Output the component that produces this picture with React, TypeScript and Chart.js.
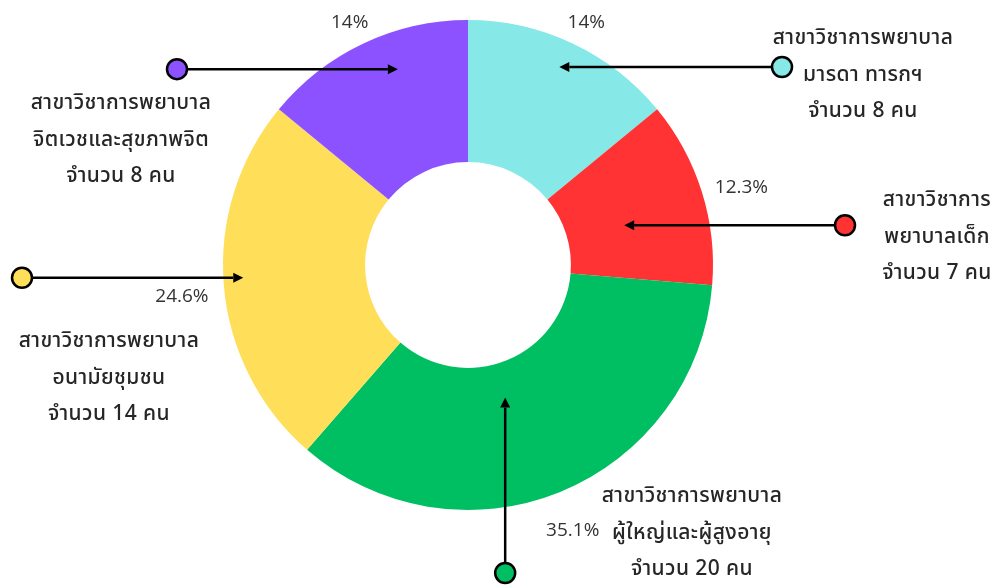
import React, { useEffect, useRef } from "react";
import { Chart, registerables } from "chart.js";

Chart.register(...registerables);

// ---- data ----
const categories = [
  "สาขาวิชาการพยาบาลมารดา ทารกฯ",
  "สาขาวิชาการพยาบาลเด็ก",
  "สาขาวิชาการพยาบาลผู้ใหญ่และผู้สูงอายุ",
  "สาขาวิชาการพยาบาลอนามัยชุมชน",
  "สาขาวิชาการพยาบาลจิตเวชและสุขภาพจิต",
];
const counts = [8, 7, 20, 14, 8];
const percentLabels = ["14%", "12.3%", "35.1%", "24.6%", "14%"];
const nameLines = [
  ["สาขาวิชาการพยาบาล", "มารดา ทารกฯ"],
  ["สาขาวิชาการ", "พยาบาลเด็ก"],
  ["สาขาวิชาการพยาบาล", "ผู้ใหญ่และผู้สูงอายุ"],
  ["สาขาวิชาการพยาบาล", "อนามัยชุมชน"],
  ["สาขาวิชาการพยาบาล", "จิตเวชและสุขภาพจิต"],
];
const sliceColors = ["#87E8E8", "#FF3333", "#00BF63", "#FFDE59", "#8C52FF"];

// ---- callout layout (styling / placement, not data) ----
const tipAngleFrac = [0.49, 0.57, 0.551, 0.517, 0.61];
const tipRadiusFrac = [0.81, 0.41, 0.245, 0.86, 0.74];
const calloutDir = ["h", "h", "v", "h", "h"];
const calloutAnchor = [782, 845, 573, 22, 177]; // circle x for "h", circle y for "v"
const textCenterX = [863, 937, 692, 109, 121];
const textFirstY = [40, 202, 498, 343, 105];
const LINE_GAP = 36.5;
const THAI_FONT = "500 21px 'Noto Sans Thai', 'Noto Sans Thai UI', Tahoma, 'Noto Sans', sans-serif";
const PCT_FONT = "19px 'Open Sans', 'Noto Sans', sans-serif";

const calloutPlugin = {
  id: "callouts",
  afterDatasetsDraw(chart: any) {
    const ctx = chart.ctx as CanvasRenderingContext2D;
    const meta = chart.getDatasetMeta(0);
    ctx.save();
    meta.data.forEach((arc: any, i: number) => {
      const p = arc.getProps(["x", "y", "startAngle", "endAngle", "innerRadius", "outerRadius"], true);
      const mid = (p.startAngle + p.endAngle) / 2;
      // percentage label
      ctx.font = PCT_FONT;
      ctx.fillStyle = "#333333";
      ctx.textAlign = "center";
      ctx.textBaseline = "middle";
      const halfW = ctx.measureText(percentLabels[i]).width / 2;
      const lr = p.outerRadius + 28 + 0.53 * halfW * Math.abs(Math.cos(mid));
      ctx.fillText(percentLabels[i], p.x + Math.cos(mid) * lr, p.y + Math.sin(mid) * lr + 8);

      // arrow
      const a = p.startAngle + (p.endAngle - p.startAngle) * tipAngleFrac[i];
      const r = p.innerRadius + (p.outerRadius - p.innerRadius) * tipRadiusFrac[i];
      const tx = p.x + Math.cos(a) * r;
      const ty = p.y + Math.sin(a) * r;
      let cx: number, cy: number;
      if (calloutDir[i] === "h") {
        cx = calloutAnchor[i];
        cy = ty;
      } else {
        cx = tx;
        cy = calloutAnchor[i];
      }
      const dx = tx - cx, dy = ty - cy;
      const len = Math.hypot(dx, dy);
      const ux = dx / len, uy = dy / len;
      const head = 10, hw = 5;
      ctx.strokeStyle = "#000";
      ctx.lineWidth = 2.5;
      ctx.beginPath();
      ctx.moveTo(cx, cy);
      ctx.lineTo(tx - ux * head, ty - uy * head);
      ctx.stroke();
      ctx.fillStyle = "#000";
      ctx.beginPath();
      ctx.moveTo(tx, ty);
      ctx.lineTo(tx - ux * head - uy * hw, ty - uy * head + ux * hw);
      ctx.lineTo(tx - ux * head + uy * hw, ty - uy * head - ux * hw);
      ctx.closePath();
      ctx.fill();
      // circle
      ctx.beginPath();
      ctx.arc(cx, cy, 10, 0, Math.PI * 2);
      ctx.fillStyle = sliceColors[i];
      ctx.fill();
      ctx.lineWidth = 2.5;
      ctx.strokeStyle = "#000";
      ctx.stroke();

      // callout text
      const lines = [...nameLines[i], `จำนวน ${counts[i]} คน`];
      ctx.font = THAI_FONT;
      (ctx as any).letterSpacing = "0.4px";
      ctx.fillStyle = "#262626";
      ctx.textAlign = "center";
      ctx.textBaseline = "middle";
      lines.forEach((t, k) => ctx.fillText(t, textCenterX[i], textFirstY[i] + k * LINE_GAP));
      (ctx as any).letterSpacing = "0px";
    });
    ctx.restore();
  },
};

export default function App() {
  const ref = useRef<HTMLCanvasElement>(null);
  useEffect(() => {
    if (!ref.current) return;
    const chart = new Chart(ref.current, {
      type: "doughnut",
      data: {
        labels: categories,
        datasets: [
          {
            data: counts,
            backgroundColor: sliceColors,
            borderWidth: 0,
          },
        ],
      },
      options: {
        animation: false,
        responsive: true,
        maintainAspectRatio: false,
        cutout: "42%",
        layout: { padding: { left: 223, right: 287, top: 20, bottom: 75 } },
        plugins: { legend: { display: false }, tooltip: { enabled: false } },
      },
      plugins: [calloutPlugin],
    });
    return () => chart.destroy();
  }, []);
  return (
    <div style={{ position: "absolute", left: 0, top: 0, width: 1000, height: 585, background: "#fff" }}>
      <canvas ref={ref} />
    </div>
  );
}
